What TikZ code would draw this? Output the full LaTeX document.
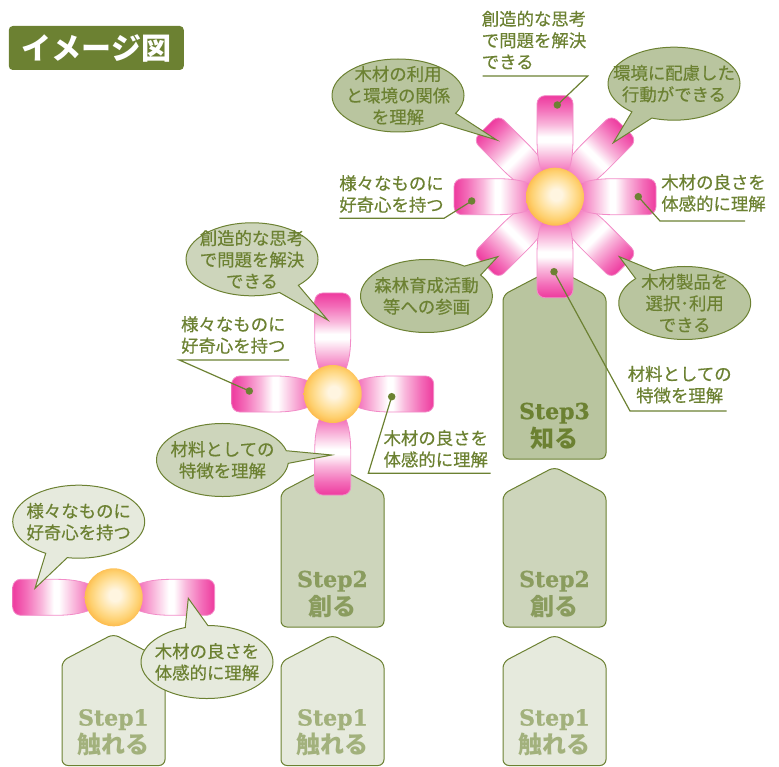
\documentclass[tikz,border=0pt]{standalone}
\usepackage{fontspec}
\setmainfont{Noto Sans CJK JP}
\newfontfamily\sayfont[RawFeature={embolden=0.5}]{Noto Sans CJK JP}
\newfontfamily\slabfont[RawFeature={embolden=0.8}]{DejaVu Serif}
\usepackage{xcolor}
\usetikzlibrary{shapes.callouts}
\definecolor{olive}{HTML}{6C8132}
\definecolor{stepA}{HTML}{E6EADD}
\definecolor{stepB}{HTML}{CDD5BB}
\definecolor{stepC}{HTML}{B9C59F}
\definecolor{wordA}{HTML}{A2B17C}
\definecolor{wordB}{HTML}{8A9C5E}
\definecolor{petalline}{HTML}{F28CC8}
\definecolor{petalA}{HTML}{EE3A9E}
\definecolor{petalB}{HTML}{F36CB8}
\definecolor{petalC}{HTML}{F9B8DC}
\definecolor{budA}{HTML}{FFF5E0}
\definecolor{budB}{HTML}{FFE2A0}
\definecolor{budC}{HTML}{FED06F}
\definecolor{budD}{HTML}{FDBB4C}
\pgfdeclarehorizontalshading{petalfade}{100bp}{color(0bp)=(petalB); color(25bp)=(petalB); color(35.4bp)=(petalC); color(45.1bp)=(white); color(48.4bp)=(white); color(56.2bp)=(petalC); color(66.6bp)=(petalB); color(75bp)=(petalA); color(100bp)=(petalA)}
\pgfdeclareradialshading{budglow}{\pgfpoint{1bp}{2bp}}{color(0bp)=(budA); color(5bp)=(budA); color(14bp)=(budB); color(21bp)=(budC); color(26bp)=(budD); color(50bp)=(budD)}
\newcommand{\petal}[4][1]{%
  \begin{scope}[transform canvas={shift={(#2,#3)},rotate=#4,xscale=#1}]
    \path[petalbody] (24,-13) .. controls (38,-18) and (50,-18) .. (62,-18) [rounded corners=8pt] -- (101,-18) -- (101,18) [sharp corners] -- (62,18) .. controls (50,18) and (38,18) .. (24,13) -- cycle;
  \end{scope}}
\newcommand{\stepcard}[7]{%
  \draw[stepbody,fill=#4] (#1-51.5,#3) -- (#1-51.5,#2+27) -- (#1,#2) -- (#1+51.5,#2+27) -- (#1+51.5,#3) -- cycle;
  \node[steptag,text=#5] at (#1,#3-33) {{\slabfont\bfseries\fontsize{22}{28}\selectfont #6}\\#7};}
\begin{document}
\begin{tikzpicture}[x=1pt,y=-1pt,
    stepbody/.style={draw=olive, line width=1pt, rounded corners=6pt},
    steptag/.style={align=center, inner sep=0pt, font=\bfseries\fontsize{24}{28}\selectfont},
    petalbody/.style={draw=petalline, line width=0.8pt, shading=petalfade},
    bud/.style={circle, minimum size=58pt, inner sep=0pt, shading=budglow},
    bubble/.style={ellipse callout, draw=olive, line width=1pt, inner sep=0pt, callout pointer arc=20},
    bubbleA/.style={bubble, fill=stepA, minimum width=132pt, minimum height=73pt},
    bubbleB/.style={bubble, fill=stepB, minimum width=132pt, minimum height=73pt},
    bubbleC/.style={bubble, fill=stepC, minimum width=132pt, minimum height=73pt},
    saying/.style={align=center, inner sep=0pt, text=olive, font=\sayfont\fontsize{17.4}{21.5}\selectfont},
    pindot/.style={circle, fill=olive, inner sep=0pt, minimum size=7.5pt},
    leader/.style={draw=olive, line width=1.2pt}
]
\useasboundingbox (0,0) rectangle (779,767);

% heading tag
\node[fill=olive, rounded corners=4pt, minimum width=175pt, minimum height=44pt, inner sep=0pt, text=white, font=\bfseries\fontsize{30}{30}\selectfont] (head) at (96.3,48) {イメージ図};

% stacked step cards
\stepcard{113.5}{634}{765.5}{stepA}{wordA}{Step1}{触れる}
\stepcard{332.5}{635}{765.5}{stepA}{wordA}{Step1}{触れる}
\stepcard{332.5}{465}{627}{stepB}{wordB}{Step2}{創る}
\stepcard{554.5}{635}{765.5}{stepA}{wordA}{Step1}{触れる}
\stepcard{554.5}{467}{627}{stepB}{wordB}{Step2}{創る}
\stepcard{554.5}{268}{459}{stepC}{olive}{Step3}{知る}

% two petals
\petal{113.7}{597.3}{0}
\petal{113.7}{597.3}{180}
\node[bud] (budX) at (113.7,597.3) {};

% four petals
\foreach \a in {0,90,180,270} {\petal{332.7}{394}{\a}}
\node[bud] (budY) at (332.7,394) {};

% eight petals
\foreach \a in {45,135,225,315} {\petal[0.97]{555}{196.7}{\a}}
\foreach \a in {0,90,180,270} {\petal{555}{196.7}{\a}}
\node[bud] (budZ) at (555,196.7) {};

% speech bubbles
\node[bubbleA, callout absolute pointer={(35,588.3)}] (a1) at (78.7,521.7) {};
\node[saying] at (a1) {様々なものに\\好奇心を持つ};
\node[bubbleA, callout absolute pointer={(188.3,598.3)}] (a2) at (207,662) {};
\node[saying] at (a2) {木材の良さを\\体感的に理解};

\node[bubbleB, callout absolute pointer={(327.7,320)}] (b1) at (252,259.3) {};
\node[saying] at (b1) {創造的な思考\\で問題を解決\\できる};
\node[bubbleB, callout absolute pointer={(331.7,455)}] (b2) at (222.5,460) {};
\node[saying] at (b2) {材料としての\\特徴を理解};

\node[bubbleC, callout absolute pointer={(496.7,140)}] (c1) at (398,95.5) {};
\node[saying] at (c1) {木材の利用\\と環境の関係\\を理解};
\node[bubbleC, callout absolute pointer={(613.3,142.7)}] (c2) at (674,83.7) {};
\node[saying] at (c2) {環境に配慮した\\行動ができる};
\node[bubbleC, callout absolute pointer={(497.7,256.7)}] (c3) at (426.5,296) {};
\node[saying] at (c3) {森林育成活動\\等への参画};
\node[bubbleC, callout absolute pointer={(619.3,256.7)}] (c4) at (684.7,303) {};
\node[saying] at (c4) {木材製品を\\選択･利用\\できる};

% plain labels with leaders
\node[saying, align=left] (t1) at (534,40) {創造的な思考\\で問題を解決\\できる};
\node[pindot] (d1) at (557.3,105) {};
\draw[leader] (482.7,76) -- (587.7,76) -- (d1.center);

\node[saying] (t2) at (391.5,194) {様々なものに\\好奇心を持つ};
\node[pindot] (d2) at (471.7,201) {};
\draw[leader] (339.3,218.3) -- (444,218.3) -- (d2.center);

\node[saying] (t3) at (713.5,193) {木材の良さを\\体感的に理解};
\node[pindot] (d3) at (638.3,196.7) {};
\draw[leader] (745,221) -- (660,221) -- (d3.center);

\node[saying] (t4) at (679.7,384.7) {材料としての\\特徴を理解};
\node[pindot] (d4) at (554,271.7) {};
\draw[leader] (726.7,411) -- (630,411) -- (d4.center);

\node[saying] (t5) at (233.3,335) {様々なものに\\好奇心を持つ};
\node[pindot] (d5) at (249.3,391) {};
\draw[leader] (289,360) -- (179.3,360) -- (d5.center);

\node[saying] (t6) at (435.8,448.8) {木材の良さを\\体感的に理解};
\node[pindot] (d6) at (391.7,396.7) {};
\draw[leader] (490.7,473.3) -- (368.3,473.3) -- (d6.center);
\end{tikzpicture}
\end{document}
